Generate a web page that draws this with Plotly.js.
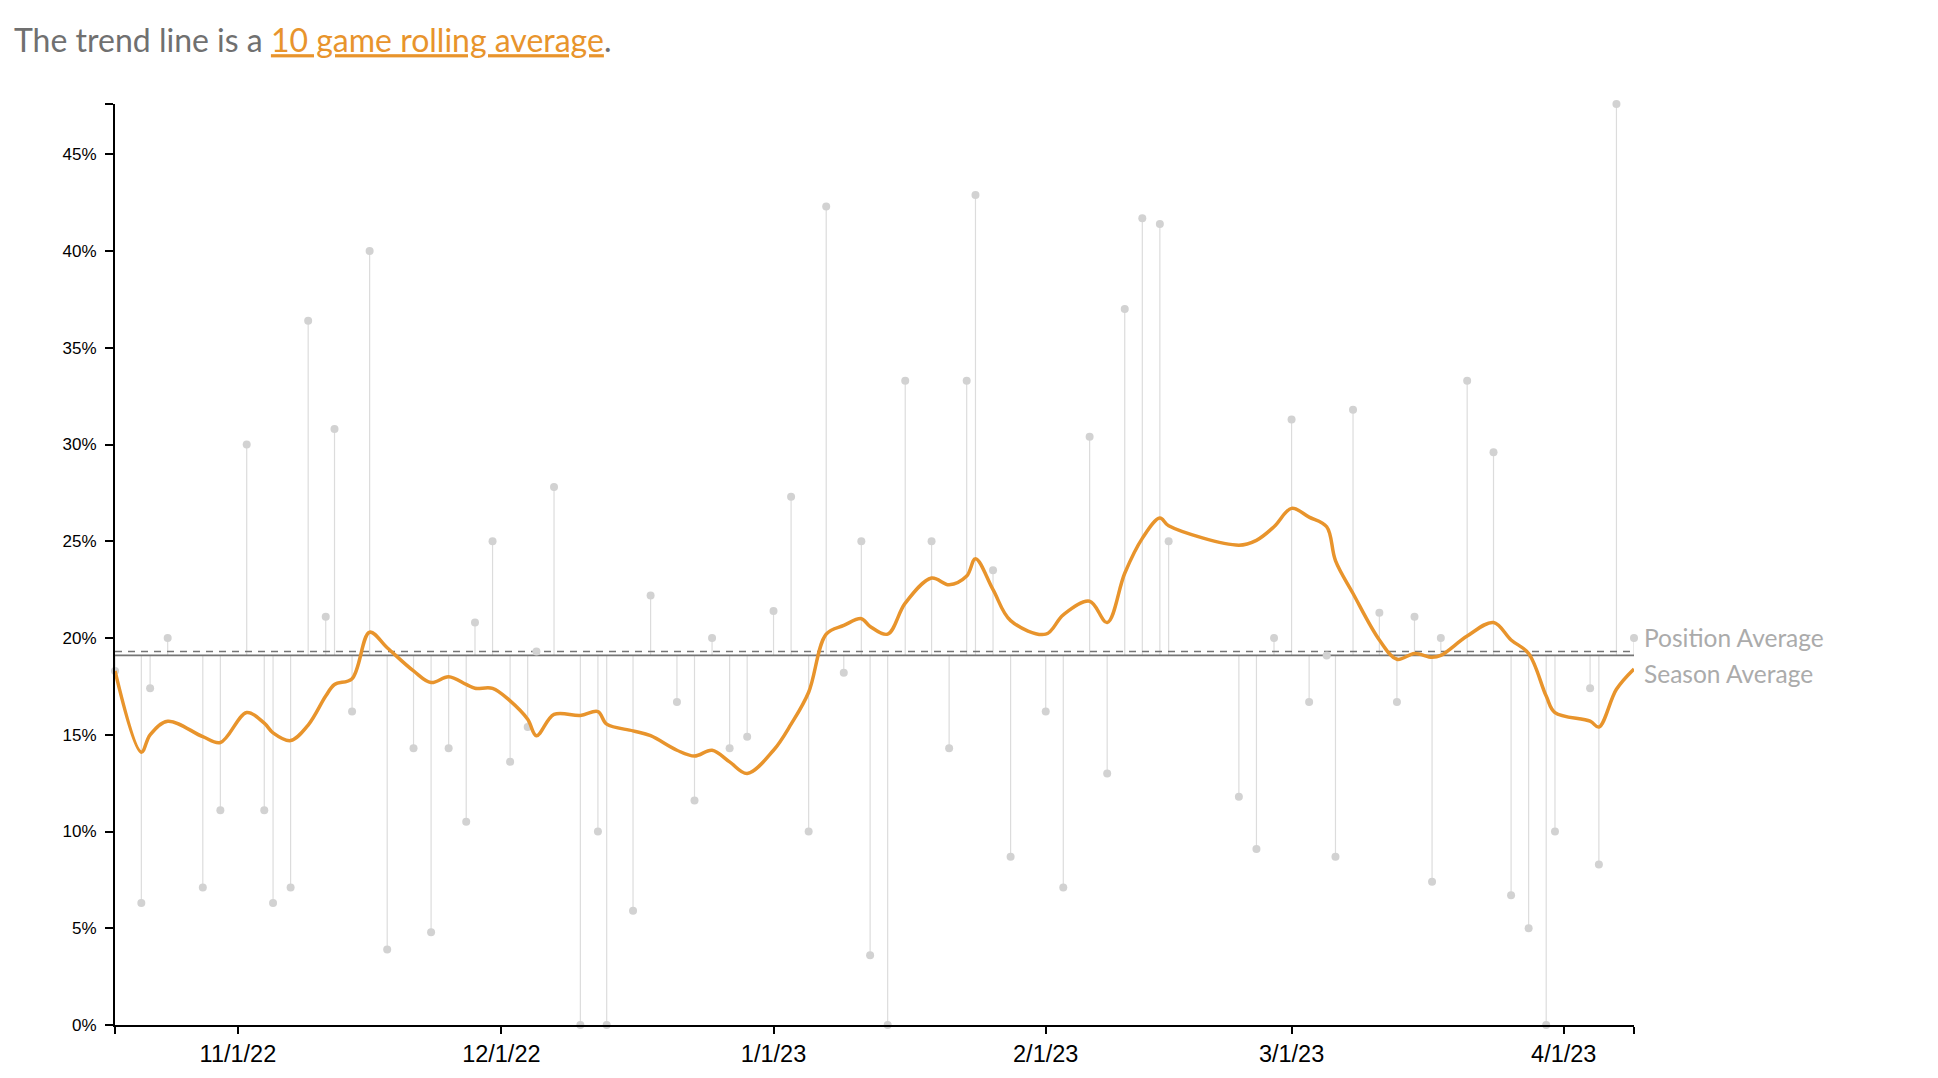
<!DOCTYPE html>
<html><head><meta charset="utf-8">
<script src="https://cdn.plot.ly/plotly-3.0.1.min.js"></script>
<style>html,body{margin:0;padding:0;background:#fff;}#chart{width:1938px;height:1078px;}</style>
</head><body><div id="chart"></div>
<script>
// ---- data ----
const gameDates = [
  '2022-10-18','2022-10-21','2022-10-22','2022-10-24','2022-10-28','2022-10-30','2022-11-02','2022-11-04','2022-11-05','2022-11-07',
  '2022-11-09','2022-11-11','2022-11-12','2022-11-14','2022-11-16','2022-11-18','2022-11-21','2022-11-23','2022-11-25','2022-11-27',
  '2022-11-28','2022-11-30','2022-12-02','2022-12-04','2022-12-05','2022-12-07','2022-12-10','2022-12-12','2022-12-13','2022-12-16',
  '2022-12-18','2022-12-21','2022-12-23','2022-12-25','2022-12-27','2022-12-29','2023-01-01','2023-01-03','2023-01-05','2023-01-07',
  '2023-01-09','2023-01-11','2023-01-12','2023-01-14','2023-01-16','2023-01-19','2023-01-21','2023-01-23','2023-01-24','2023-01-26',
  '2023-01-28','2023-02-01','2023-02-03','2023-02-06','2023-02-08','2023-02-10','2023-02-12','2023-02-14','2023-02-15','2023-02-23',
  '2023-02-25','2023-02-27','2023-03-01','2023-03-03','2023-03-05','2023-03-06','2023-03-08','2023-03-11','2023-03-13','2023-03-15',
  '2023-03-17','2023-03-18','2023-03-21','2023-03-24','2023-03-26','2023-03-28','2023-03-30','2023-03-31','2023-04-04','2023-04-05',
  '2023-04-07','2023-04-09'
];
const gameValues = [
  18.3, 6.3, 17.4, 20.0, 7.1, 11.1, 30.0, 11.1, 6.3, 7.1,
  36.4, 21.1, 30.8, 16.2, 40.0, 3.9, 14.3, 4.8, 14.3, 10.5,
  20.8, 25.0, 13.6, 15.4, 19.3, 27.8, 0, 10.0, 0, 5.9,
  22.2, 16.7, 11.6, 20.0, 14.3, 14.9, 21.4, 27.3, 10.0, 42.3,
  18.2, 25.0, 3.6, 0, 33.3, 25.0, 14.3, 33.3, 42.9, 23.5,
  8.7, 16.2, 7.1, 30.4, 13.0, 37.0, 41.7, 41.4, 25.0, 11.8,
  9.1, 20.0, 31.3, 16.7, 19.1, 8.7, 31.8, 21.3, 16.7, 21.1,
  7.4, 20.0, 33.3, 29.6, 6.7, 5.0, 0, 10.0, 17.4, 8.3,
  47.6, 20.0
];
const trendValues = [
  18.3, 14.1, 15.0, 15.7, 14.9, 14.6, 16.15, 15.6, 15.1, 14.7,
  15.5, 17.0, 17.6, 17.9, 20.3, 19.5, 18.3, 17.7, 18.0, 17.6,
  17.4, 17.4, 16.75, 15.8, 14.95, 16.05, 16.0, 16.2, 15.55, 15.2,
  14.95, 14.2, 13.9, 14.2, 13.6, 13.0, 14.2, 15.55, 17.2, 20.2,
  20.65, 21.0, 20.6, 20.2, 21.8, 23.1, 22.75, 23.2, 24.1, 22.5,
  20.9, 20.2, 21.2, 21.9, 20.8, 23.35, 25.15, 26.2, 25.8, 24.8,
  25.05, 25.75, 26.7, 26.25, 25.75, 24.0, 22.3, 19.9, 18.9, 19.2,
  19.0, 19.1, 20.1, 20.8, 19.9, 19.2, 17.0, 16.15, 15.7, 15.4,
  17.35, 18.4
];
const seasonAverage = 19.1;
const positionAverage = 19.3;
const xTickDates = ['2022-11-01','2022-12-01','2023-01-01','2023-02-01','2023-03-01','2023-04-01'];
const xTickLabels = ['11/1/22','12/1/22','1/1/23','2/1/23','3/1/23','4/1/23'];
const yTickValues = [0,5,10,15,20,25,30,35,40,45];

// ---- derived structures ----
const firstDate = gameDates[0];
const lastDate = gameDates[gameDates.length - 1];
const yMax = Math.max(...gameValues);

const stemX = [], stemY = [];
gameDates.forEach((d, i) => { stemX.push(d, d, null); stemY.push(seasonAverage, gameValues[i], null); });

const ORANGE = '#e8942c';

const traces = [
  { type: 'scatter', mode: 'lines', x: stemX, y: stemY, line: { color: '#dcdcdc', width: 1.2 }, hoverinfo: 'skip', cliponaxis: false },
  { type: 'scatter', mode: 'lines', x: [firstDate, lastDate], y: [positionAverage, positionAverage], line: { color: '#757575', width: 1.6, dash: '7px,6px' }, hoverinfo: 'skip' },
  { type: 'scatter', mode: 'lines', x: [firstDate, lastDate], y: [seasonAverage, seasonAverage], line: { color: '#757575', width: 1.7 }, hoverinfo: 'skip' },
  { type: 'scatter', mode: 'markers', x: gameDates, y: gameValues, marker: { color: '#d2d2d2', size: 8 }, cliponaxis: false, hoverinfo: 'skip' },
  { type: 'scatter', mode: 'lines', x: gameDates, y: trendValues, line: { color: ORANGE, width: 3.5, shape: 'spline', smoothing: 1 }, cliponaxis: false, hoverinfo: 'skip' }
];

const layout = {
  width: 1938, height: 1078,
  margin: { l: 115, r: 304, t: 104, b: 53 },
  paper_bgcolor: '#fff', plot_bgcolor: '#fff',
  showlegend: false, hovermode: false,
  title: {
    text: 'The trend line is a <span style="color:' + ORANGE + '"><u>10 game rolling average</u></span>.',
    x: 14 / 1938, xref: 'container', xanchor: 'left',
    y: 1 - 41 / 1078, yref: 'container', yanchor: 'middle',
    font: { family: 'Lato, sans-serif', size: 32, color: '#707070' }
  },
  xaxis: {
    type: 'date', range: [firstDate, lastDate],
    tickvals: [firstDate].concat(xTickDates, [lastDate]),
    ticktext: [''].concat(xTickLabels, ['']),
    showgrid: false, zeroline: false, showline: true, linecolor: '#000', linewidth: 2,
    ticks: 'outside', ticklen: 7, tickwidth: 2, tickcolor: '#000',
    tickfont: { family: 'Liberation Sans, Arial, sans-serif', size: 23.5, color: '#000' }
  },
  yaxis: {
    range: [0, yMax],
    tickvals: yTickValues.concat([yMax]),
    ticktext: yTickValues.map(v => v + '%').concat(['']),
    showgrid: false, zeroline: false, showline: true, linecolor: '#000', linewidth: 2,
    ticks: 'outside', ticklen: 8, tickwidth: 2, tickcolor: '#000', ticklabelstandoff: 5,
    tickfont: { family: 'Liberation Sans, Arial, sans-serif', size: 17, color: '#000' }
  },
  annotations: [
    { x: lastDate, y: seasonAverage, xref: 'x', yref: 'y', text: 'Position Average', showarrow: false, xanchor: 'left', yanchor: 'middle', xshift: 8, yshift: 18, font: { family: 'Lato, sans-serif', size: 24.5, color: '#ababab' } },
    { x: lastDate, y: seasonAverage, xref: 'x', yref: 'y', text: 'Season Average', showarrow: false, xanchor: 'left', yanchor: 'middle', xshift: 8, yshift: -18, font: { family: 'Lato, sans-serif', size: 24.5, color: '#ababab' } }
  ]
};

Plotly.newPlot('chart', traces, layout, { displayModeBar: false, staticPlot: true });
</script>
</body></html>
